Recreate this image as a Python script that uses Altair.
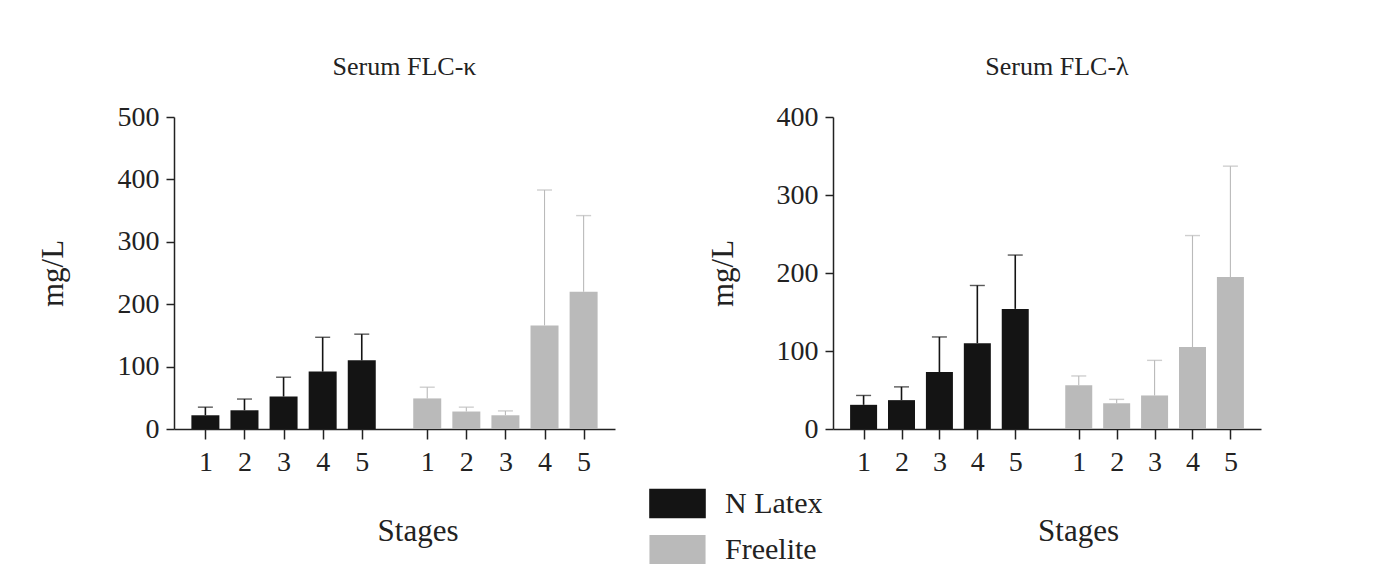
import altair as alt
import pandas as pd

stages = [1, 2, 3, 4, 5]
methods = ["N Latex", "Freelite"]

kappa_nlatex_mean = [22, 30, 52, 92, 110]
kappa_nlatex_sd = [13, 18, 31, 55, 42]
kappa_freelite_mean = [49, 28, 22, 166, 220]
kappa_freelite_sd = [18, 7, 7, 217, 122]

lambda_nlatex_mean = [31, 37, 73, 110, 154]
lambda_nlatex_sd = [12, 17, 45, 74, 69]
lambda_freelite_mean = [56, 33, 43, 105, 195]
lambda_freelite_sd = [12, 5, 45, 143, 142]

GROUP_OFFSET = {"N Latex": 0.0, "Freelite": 5.675}
FONT = "Liberation Serif"
TXT = "#222222"


def build(means_by_method, sds_by_method):
    rows = []
    for m in methods:
        for s, v, sd in zip(stages, means_by_method[m], sds_by_method[m]):
            rows.append({"method": m, "stage": s, "pos": s + GROUP_OFFSET[m],
                         "mean": v, "upper": v + sd})
    return pd.DataFrame(rows)


kappa = build({"N Latex": kappa_nlatex_mean, "Freelite": kappa_freelite_mean},
              {"N Latex": kappa_nlatex_sd, "Freelite": kappa_freelite_sd})
lam = build({"N Latex": lambda_nlatex_mean, "Freelite": lambda_freelite_mean},
            {"N Latex": lambda_nlatex_sd, "Freelite": lambda_freelite_sd})

color_scale = alt.Scale(domain=methods, range=["#141414", "#bababa"])
width_scale = alt.Scale(domain=methods, range=[1.6, 1.1])
tick_positions = [s + GROUP_OFFSET[m] for m in methods for s in stages]

legend = alt.Legend(title=None, orient="none", legendX=475, legendY=358,
                    symbolType="M-1,-0.509H1V0.509H-1Z", symbolSize=3025,
                    symbolStrokeWidth=0, symbolOpacity=1, labelFontSize=30, labelFont=FONT,
                    labelColor=TXT, rowPadding=-9, labelOffset=19)


def panel(df, title, ymax, width, bar_size, ytitle_pad, xtitle_shift):
    x = alt.X("pos:Q", scale=alt.Scale(domain=[0.325, 11.35], nice=False, zero=False),
              axis=alt.Axis(values=tick_positions,
                            labelExpr="datum.value > 5.5 ? round(datum.value - 5.675) : round(datum.value)",
                            title="Stages", grid=False, tickSize=10, labelPadding=9,
                            titlePadding=40, domainWidth=1.5, tickWidth=1.5,
                            titleX=width / 2 + xtitle_shift))
    y = alt.Y("mean:Q", scale=alt.Scale(domain=[0, ymax], nice=False),
              axis=alt.Axis(values=list(range(0, ymax + 1, 100)), title="mg/L",
                            grid=False, tickSize=8, labelPadding=7, titlePadding=ytitle_pad,
                            domainWidth=1.5, tickWidth=1.5))
    color = alt.Color("method:N", scale=color_scale, legend=legend)
    sw = alt.StrokeWidth("method:N", scale=width_scale, legend=None)
    base = alt.Chart(df)
    rules = base.mark_rule().encode(x=x, y="mean:Q", y2="upper:Q", color=color, strokeWidth=sw)
    caps = base.mark_tick(orient="horizontal", size=15, thickness=1.4).encode(
        x=x, y="upper:Q", color=color)
    bars = base.mark_bar(size=bar_size).encode(x=x, y=y, color=color)
    return alt.layer(rules, caps, bars).properties(
        width=width, height=312,
        title=alt.Title(title, fontSize=26, font=FONT, color=TXT, fontWeight="normal",
                        offset=23, dx=10))


left = panel(kappa, "Serum FLC-\u03ba", 500, 441, 28, 48, 23)
right = panel(lam, "Serum FLC-\u03bb", 400, 428, 27, 37, 31)

chart = alt.hconcat(left, right, spacing=92).properties(
    padding={"left": 29, "top": 46, "right": 5, "bottom": 0},
    background="white",
).configure_view(stroke=None).configure_axis(
    labelFont=FONT, labelFontSize=28, labelColor=TXT, titleFont=FONT, titleFontSize=31,
    titleColor=TXT, titleFontWeight="normal", domainColor="#222222", tickColor="#222222"
)

chart.save("out.html", embed_options={"renderer": "svg", "actions": False})
